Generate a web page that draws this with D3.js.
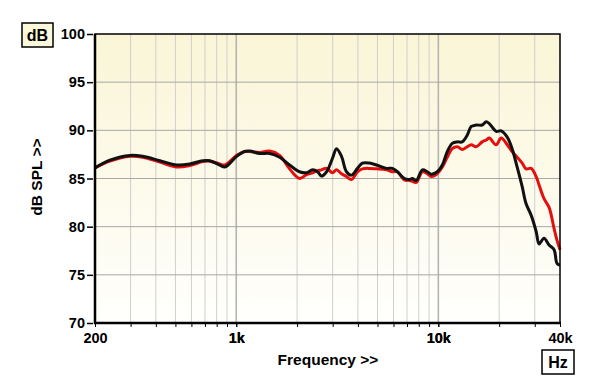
<!DOCTYPE html>
<html>
<head>
<meta charset="utf-8">
<script src="https://cdn.jsdelivr.net/npm/d3@7"></script>
<style>
  body { margin: 0; background: #fff; }
  text { font-family: Arial, "Liberation Sans", sans-serif; font-weight: bold; fill: #000; }
</style>
</head>
<body>
<div id="chart"></div>
<script>
// measurement frequencies (Hz)
var freqs = [200, 237, 298, 345, 419, 508, 589, 683, 740, 810, 877, 1005, 1100, 1165, 1306, 1463, 1640, 1836,
  2056, 2228, 2386, 2524, 2642, 2798, 2994, 3134, 3318, 3510, 3716, 3980, 4210, 4558, 4942, 5534, 5926, 6272,
  6792, 7194, 7434, 7780, 8338, 8816, 9230, 9886, 10468, 11072, 11722, 12416, 13128, 13900, 14556, 15382,
  16482, 17260, 17866, 19322, 20460, 21920, 23180, 24540, 26000, 27160, 28780, 30480, 31540, 33340, 35320,
  37400, 38640, 40000];
// black trace (dB SPL)
var blackSeries = [86.1, 86.9, 87.4, 87.3, 86.85, 86.4, 86.5, 86.85, 86.85, 86.5, 86.2, 87.3, 87.8, 87.85, 87.6, 87.6, 87.2, 86.4,
  85.7, 85.6, 85.9, 85.7, 85.25, 85.7, 87.1, 88.1, 87.3, 85.7, 85.35, 86.05, 86.6, 86.6, 86.4, 86.05, 86.05, 85.7,
  85.0, 84.9, 85.0, 84.8, 85.9, 85.7, 85.45, 85.7, 86.4, 87.8, 88.65, 88.8, 88.8, 89.5, 90.4, 90.55,
  90.55, 90.9, 90.7, 89.9, 89.95, 89.3, 88.1, 86.2, 84.15, 82.4, 81.2, 79.5, 78.2, 78.8, 78.1,
  77.6, 76.2, 76.0];
// red trace (dB SPL)
var redSeries = [86.1, 86.8, 87.3, 87.2, 86.7, 86.2, 86.35, 86.75, 86.8, 86.6, 86.4, 87.4, 87.8, 87.8, 87.7, 87.85, 87.4, 86.0,
  85.0, 85.4, 85.6, 85.8, 85.9, 86.05, 85.6, 85.9, 85.5, 85.2, 84.9, 85.7, 86.0, 86.05, 86.0, 85.9, 85.7, 85.7,
  84.85, 84.8, 84.7, 84.6, 85.7, 85.5, 85.2, 85.5, 86.2, 87.2, 88.1, 88.3, 88.0, 88.3, 88.5, 88.3,
  88.8, 89.0, 89.2, 88.5, 89.2, 88.5, 87.8, 87.2, 86.6, 86.0, 86.05, 85.2, 84.3, 82.9, 82.0,
  79.8, 78.6, 77.6];

var xLabelVals = [200, 1000, 10000, 40000];
var xLabels = ['200', '1k', '10k', '40k'];
var xGrid = [300, 400, 500, 600, 700, 800, 900, 1000, 2000, 3000, 4000, 5000, 6000, 7000, 8000, 9000, 10000, 20000, 30000];
var yTicks = [70, 75, 80, 85, 90, 95, 100];

var width = 600, height = 389;
var pLeft = 95, pRight = 560, pTop = 34, pBottom = 323;

var svg = d3.select('#chart').append('svg')
  .attr('width', width)
  .attr('height', height);

var x = d3.scaleLog().domain([200, 40000]).range([pLeft, pRight]);
var y = d3.scaleLinear().domain([70, 100]).range([pBottom, pTop]);

var grad = svg.append('defs').append('linearGradient')
  .attr('id', 'bg').attr('x1', 0).attr('y1', 0).attr('x2', 0).attr('y2', 1);
grad.append('stop').attr('offset', '0%').attr('stop-color', '#faf5d6');
grad.append('stop').attr('offset', '100%').attr('stop-color', '#fffffd');

svg.append('rect')
  .attr('x', pLeft).attr('y', pTop)
  .attr('width', pRight - pLeft).attr('height', pBottom - pTop)
  .attr('fill', 'url(#bg)');

// vertical grid
svg.append('g').selectAll('line')
  .data(xGrid)
  .enter().append('line')
  .attr('x1', d => x(d)).attr('x2', d => x(d))
  .attr('y1', pTop).attr('y2', pBottom)
  .attr('stroke', d => (d === 1000 || d === 10000) ? '#b4b4b4' : '#cfcfcf')
  .attr('stroke-width', d => (d === 1000 || d === 10000) ? 1.6 : 1);

// horizontal grid
svg.append('g').selectAll('line')
  .data(yTicks.slice(1, -1))
  .enter().append('line')
  .attr('x1', pLeft).attr('x2', pRight)
  .attr('y1', d => y(d)).attr('y2', d => y(d))
  .attr('stroke', '#a8a8a8')
  .attr('stroke-width', 1);

// curves
var line = d3.line()
  .x((d, i) => x(freqs[i]))
  .y(d => y(d))
  .curve(d3.curveCatmullRom.alpha(0.5));

svg.append('path')
  .attr('d', line(redSeries))
  .attr('fill', 'none')
  .attr('stroke', '#e41010')
  .attr('stroke-width', 3)
  .attr('stroke-linejoin', 'round');

svg.append('path')
  .attr('d', line(blackSeries))
  .attr('fill', 'none')
  .attr('stroke', '#111')
  .attr('stroke-width', 3)
  .attr('stroke-linejoin', 'round');

// frame
svg.append('rect')
  .attr('x', pLeft).attr('y', pTop)
  .attr('width', pRight - pLeft).attr('height', pBottom - pTop)
  .attr('fill', 'none')
  .attr('stroke', '#000')
  .attr('stroke-width', 1.5);
svg.append('line')
  .attr('x1', pLeft).attr('x2', pLeft).attr('y1', pTop).attr('y2', pBottom + 1)
  .attr('stroke', '#000').attr('stroke-width', 2.5);
svg.append('line')
  .attr('x1', pLeft - 1).attr('x2', pRight + 1).attr('y1', pBottom).attr('y2', pBottom)
  .attr('stroke', '#000').attr('stroke-width', 2.5);

// x axis
var xAxis = d3.axisBottom(x)
  .tickValues(xGrid.concat(xLabelVals))
  .tickSize(4)
  .tickFormat(d => {
    var i = xLabelVals.indexOf(d);
    return i >= 0 ? xLabels[i] : '';
  });
var gx = svg.append('g')
  .attr('transform', 'translate(0,' + pBottom + ')')
  .call(xAxis);
gx.select('.domain').remove();
gx.selectAll('.tick line').attr('stroke', '#000').attr('stroke-width', 1);
gx.selectAll('.tick text')
  .attr('dy', 0).attr('y', 20)
  .style('font-size', '14.5px')
  .style('font-family', 'Arial, "Liberation Sans", sans-serif')
  .style('font-weight', 'bold')
  .attr('fill', '#000');

// y axis
var yAxis = d3.axisLeft(y)
  .tickValues(yTicks)
  .tickSize(6)
  .tickPadding(2);
var gy = svg.append('g')
  .attr('transform', 'translate(' + (pLeft - 2) + ',0)')
  .call(yAxis);
gy.select('.domain').remove();
gy.selectAll('.tick line').attr('stroke', '#000').attr('stroke-width', 1.5);
gy.selectAll('.tick text')
  .style('font-size', '14.5px')
  .style('font-family', 'Arial, "Liberation Sans", sans-serif')
  .style('font-weight', 'bold')
  .attr('fill', '#000');

// axis titles
svg.append('text')
  .attr('x', 328).attr('y', 365)
  .attr('text-anchor', 'middle')
  .style('font-size', '15.5px')
  .text('Frequency >>');

svg.append('text')
  .attr('transform', 'translate(41.5,177) rotate(-90)')
  .attr('text-anchor', 'middle')
  .style('font-size', '15.5px')
  .text('dB SPL >>');

// unit boxes
svg.append('rect')
  .attr('x', 22).attr('y', 23).attr('width', 31).attr('height', 24)
  .attr('fill', '#fbf8dc').attr('stroke', '#000').attr('stroke-width', 1.5);
svg.append('text')
  .attr('x', 37.5).attr('y', 41)
  .attr('text-anchor', 'middle')
  .style('font-size', '16px')
  .text('dB');

svg.append('rect')
  .attr('x', 542).attr('y', 350).attr('width', 32).attr('height', 24)
  .attr('fill', '#fff').attr('stroke', '#000').attr('stroke-width', 1.5);
svg.append('text')
  .attr('x', 558).attr('y', 368)
  .attr('text-anchor', 'middle')
  .style('font-size', '16px')
  .text('Hz');
</script>
</body>
</html>
